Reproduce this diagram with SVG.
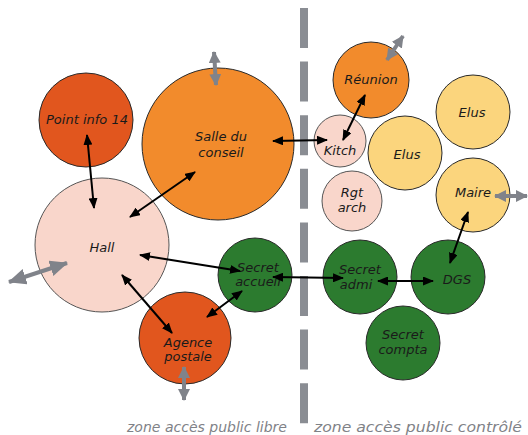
<svg xmlns="http://www.w3.org/2000/svg" width="528" height="435" viewBox="0 0 528 435">
<defs>
<marker id="ah" markerUnits="userSpaceOnUse" markerWidth="11" markerHeight="9" refX="10" refY="4.5" orient="auto-start-reverse"><path d="M0,0 L11,4.5 L0,9 z" fill="#000"/></marker>
<marker id="gh" markerUnits="userSpaceOnUse" markerWidth="12" markerHeight="12" refX="11" refY="6" orient="auto-start-reverse"><path d="M0,0 L12,6 L0,12 z" fill="#80838a"/></marker>
<marker id="gh2" markerUnits="userSpaceOnUse" markerWidth="18" markerHeight="16" refX="17" refY="8" orient="auto-start-reverse"><path d="M0,0 L18,8 L0,16 z" fill="#80838a"/></marker>
</defs>
<style>
.n circle{stroke:#2a2a2a;stroke-width:1}
.red{fill:#e1561e}
.org{fill:#f28b2c}
.pink{fill:#f9d6cb}
.pink circle{stroke:#555}
.yel{fill:#fbd57d}
.grn{fill:#2c7b2f}
text{font-family:"DejaVu Sans",Verdana,sans-serif;font-style:italic;font-size:13px;fill:#1a1a1a;text-anchor:middle}
.zone{fill:#7f8287;font-size:14.5px;text-anchor:start}
.c line{stroke:#000;stroke-width:2;marker-start:url(#ah);marker-end:url(#ah)}
.g line{stroke:#80838a;stroke-width:4;marker-start:url(#gh);marker-end:url(#gh)}
</style>
<rect width="528" height="435" fill="#ffffff"/>
<line x1="304" y1="8" x2="304" y2="435" stroke="#8a8d93" stroke-width="8" stroke-dasharray="40 13.6"/>

<g id="salle" class="n"><circle cx="218" cy="144" r="76" class="org"/><text x="221" y="141">Salle du</text><text x="221" y="157">conseil</text></g>
<g id="pointinfo" class="n"><circle cx="86" cy="120" r="47" class="red"/><text x="87" y="124">Point info 14</text></g>
<g id="hall" class="n pink"><circle cx="102" cy="245" r="67" class="pink"/><text x="102" y="252">Hall</text></g>
<g id="secretaccueil" class="n"><circle cx="255" cy="275" r="37" class="grn"/><text x="258" y="272">Secret</text><text x="258" y="286">accueil</text></g>
<g id="agence" class="n"><circle cx="185" cy="338" r="46" class="red"/><text x="188" y="347">Agence</text><text x="188" y="361">postale</text></g>
<g id="reunion" class="n"><circle cx="371" cy="80" r="38" class="org"/><text x="371" y="84">Réunion</text></g>
<g id="kitch" class="n pink"><circle cx="340" cy="141" r="26" class="pink"/><text x="340" y="155">Kitch</text></g>
<g id="rgtarch" class="n pink"><circle cx="352" cy="201" r="30" class="pink"/><text x="352" y="197">Rgt</text><text x="352" y="212">arch</text></g>
<g id="elus1" class="n"><circle cx="405" cy="153" r="37" class="yel"/><text x="407" y="159">Elus</text></g>
<g id="elus2" class="n"><circle cx="473" cy="112" r="37" class="yel"/><text x="472" y="117">Elus</text></g>
<g id="maire" class="n"><circle cx="473" cy="195" r="37" class="yel"/><text x="473" y="197">Maire</text></g>
<g id="secretadmi" class="n"><circle cx="360" cy="277" r="37" class="grn"/><text x="360" y="274">Secret</text><text x="356" y="289">admi</text></g>
<g id="dgs" class="n"><circle cx="448" cy="277" r="37" class="grn"/><text x="457" y="284">DGS</text></g>
<g id="secretcompta" class="n"><circle cx="403" cy="343" r="37" class="grn"/><text x="403" y="339">Secret</text><text x="403" y="354">compta</text></g>

<g id="connectors">
<g class="c">
<line x1="87" y1="135" x2="94" y2="208"/>
<line x1="195" y1="172" x2="130" y2="217"/>
<line x1="327" y1="140" x2="273" y2="141"/>
<line x1="365" y1="95" x2="343" y2="140"/>
<line x1="140" y1="255" x2="240" y2="271"/>
<line x1="122" y1="275" x2="172" y2="333"/>
<line x1="207" y1="317" x2="242" y2="291"/>
<line x1="273" y1="277" x2="343" y2="278"/>
<line x1="378" y1="281" x2="433" y2="281"/>
<line x1="468" y1="212" x2="450" y2="263"/>
</g>
<g class="g">
<line x1="214" y1="52" x2="216" y2="85"/>
<line x1="387" y1="60" x2="403" y2="36"/>
<line x1="495" y1="196" x2="527" y2="196"/>
<line x1="184" y1="367" x2="184" y2="400"/>
<line x1="9" y1="282" x2="67" y2="263" stroke-width="6" style="marker-start:url(#gh2);marker-end:url(#gh2)"/>
</g>
</g>

<text class="zone" x="127" y="432" textLength="160" lengthAdjust="spacingAndGlyphs">zone accès public libre</text>
<text class="zone" x="314" y="432" textLength="208" lengthAdjust="spacingAndGlyphs">zone accès public contrôlé</text>
</svg>
